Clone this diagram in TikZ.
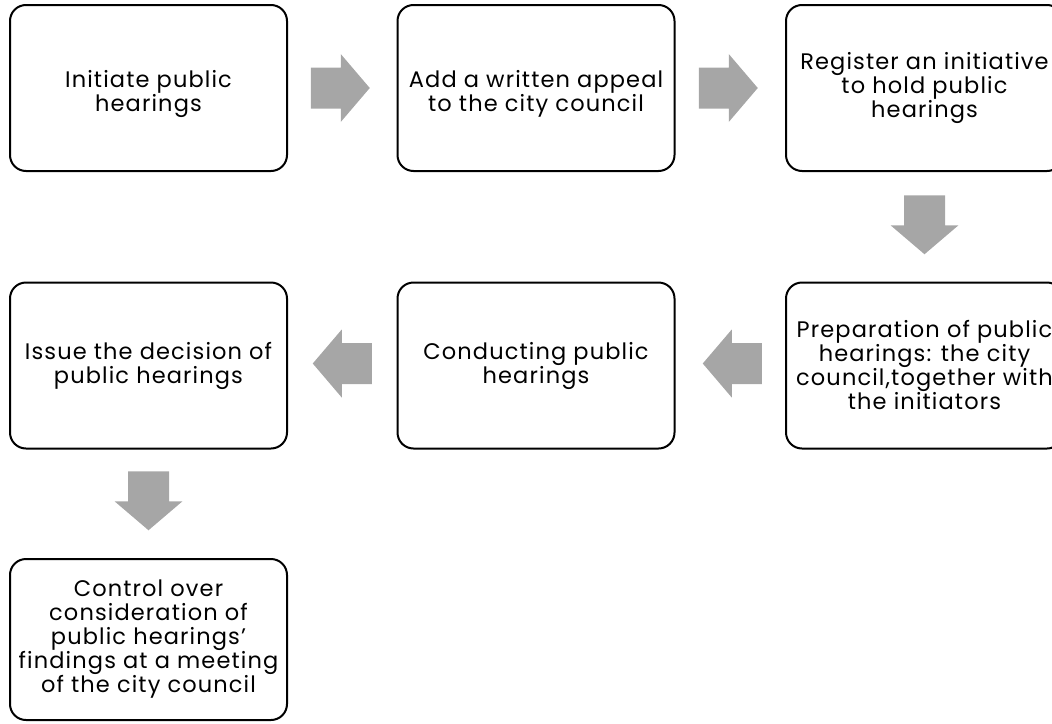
\documentclass[tikz,border=0pt]{standalone}
\usepackage{fontspec}
\setmainfont{Poppins}
\usetikzlibrary{calc}

\definecolor{arrowgray}{HTML}{A6A6A6}

\tikzset{
  stepbox/.style={draw, line width=2pt, rounded corners=16pt, fill=white,
    minimum width=277pt, minimum height=166pt, inner sep=0pt,
    align=center, font=\fontsize{22.5}{24}\selectfont\addfontfeature{LetterSpace=5}},
  pics/blockarrow/.style={code={
    \fill[arrowgray] (-29.5,-20.5) -- (0.5,-20.5) -- (0.5,-34) -- (29.5,0)
      -- (0.5,34) -- (0.5,20.5) -- (-29.5,20.5) -- cycle;
  }},
}

\begin{document}
\begin{tikzpicture}[x=1pt, y=1pt]

  % page frame
  \useasboundingbox (0,0) rectangle (1052,-723);
  \clip (0,0) rectangle (1052,-723);

  % first row
  \node[stepbox, text height=53pt] (s1) at (148.5,-88) {Initiate public\\hearings};
  \node[stepbox, text height=53pt] (s2) at (536,-88) {Add a written appeal\\to the city council};
  \node[stepbox] (s3) at (924.5,-88) {Register an initiative\\to hold public\\hearings};

  % second row
  \node[stepbox] (s6) at (924.5,-365.5) {Preparation of public\\hearings: the city\\council,together with\\the initiators};
  \node[stepbox] (s5) at (536,-365.5) {Conducting public\\hearings};
  \node[stepbox] (s4) at (148.5,-365.5) {Issue the decision of\\public hearings};

  % third row
  \node[stepbox, minimum height=161pt] (s7) at (148.5,-639.5)
    {Control over\\consideration of\\public hearings'\\findings at a meeting\\of the city council};

  % arrows between the boxes
  \pic (a12) at ($(s1.east)!0.5!(s2.west)+(-2,0)$) {blockarrow};
  \pic (a23) at ($(s2.east)!0.5!(s3.west)+(-2,0)$) {blockarrow};
  \pic[rotate=-90] (a36) at ($(s3.south)!0.5!(s6.north)+(0,2)$) {blockarrow};
  \pic[rotate=180] (a65) at ($(s6.west)!0.5!(s5.east)+(2,2)$) {blockarrow};
  \pic[rotate=180] (a54) at ($(s5.west)!0.5!(s4.east)+(0,2)$) {blockarrow};
  \pic[rotate=-90] (a47) at ($(s4.south)!0.5!(s7.north)+(0,3)$) {blockarrow};

\end{tikzpicture}
\end{document}
